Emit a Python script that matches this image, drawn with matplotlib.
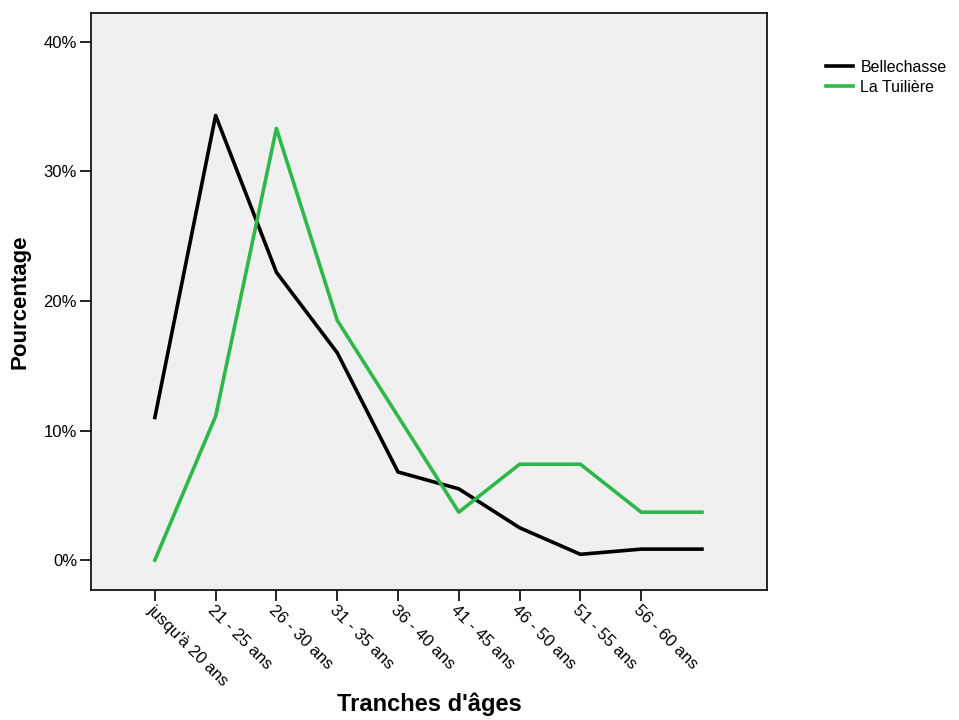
import matplotlib
matplotlib.use("Agg")
import matplotlib.pyplot as plt
from matplotlib.ticker import FuncFormatter

plt.rcParams['font.family'] = ['Liberation Sans', 'DejaVu Sans']

categories = ["jusqu'à 20 ans", "21 - 25 ans", "26 - 30 ans", "31 - 35 ans",
              "36 - 40 ans", "41 - 45 ans", "46 - 50 ans", "51 - 55 ans",
              "56 - 60 ans", ""]
bellechasse = [11.0, 34.3, 22.2, 16.0, 6.8, 5.5, 2.5, 0.45, 0.85, 0.85]
tuiliere = [0.0, 11.1, 33.3, 18.5, 11.1, 3.7, 7.4, 7.4, 3.7, 3.7]

fig = plt.figure(figsize=(9.59, 7.2), dpi=100)
ax = fig.add_axes([0.0949, 0.1806, 0.7049, 0.8013])
ax.set_facecolor('#f0f0f0')

x = list(range(len(categories)))
ax.plot(x, bellechasse, color='black', lw=2.6, label='Bellechasse')
ax.plot(x, tuiliere, color='#2fb84a', lw=2.6, label='La Tuilière')

ax.set_xlim(-1.05, 10.07)
ax.set_ylim(-2.3, 42.2)
ax.set_yticks([0, 10, 20, 30, 40])
ax.yaxis.set_major_formatter(FuncFormatter(lambda v, p: f"{v:.0f}%"))
ax.set_xticks(x[:9])
ax.set_xticklabels(categories[:9], rotation=-45, ha='left', va='top',
                   rotation_mode='anchor', fontsize=12)
ax.tick_params(axis='both', direction='out', length=8, width=1.2, labelsize=12)
ax.tick_params(axis='y', pad=2)
ax.tick_params(axis='x', pad=1)
for s in ax.spines.values():
    s.set_linewidth(1.2)

ax.set_ylabel('Pourcentage', fontsize=16, fontweight='bold')
ax.set_xlabel("Tranches d'âges", fontsize=17, fontweight='bold')
ax.xaxis.set_label_coords(0.5, -0.178)
ax.yaxis.set_label_coords(-0.09, 0.5)

fig.legend(loc='upper left', bbox_to_anchor=(0.853, 0.928), frameon=False,
           fontsize=11.5, handlelength=1.7, handletextpad=0.45,
           labelspacing=0.3, borderpad=0)

fig.savefig('out.png', dpi=100)
